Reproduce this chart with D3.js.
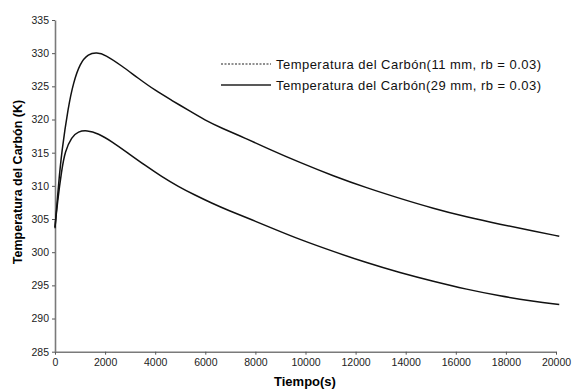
<!DOCTYPE html>
<html>
<head>
<meta charset="utf-8">
<script src="https://cdn.jsdelivr.net/npm/d3@7"></script>
<style>
  body { margin: 0; background: #fff; }
  svg { font-family: "Liberation Sans", Arial, sans-serif; }
</style>
</head>
<body>
<svg id="chart" width="574" height="390"></svg>
<script>
// Time (s) sample points for each series
const tUpper = [0, 133, 267, 533, 731, 998, 1331, 1663, 1996, 2662, 3326, 3992, 4658, 5322, 5988, 6654, 7585, 8450, 9780, 11110, 12440, 13772, 15101, 16432, 17764, 19094, 20130];
const TUpper = [303.6, 309.9, 315.2, 322.0, 325.5, 328.5, 329.9, 330.1, 329.8, 328.1, 326.2, 324.4, 322.9, 321.4, 319.9, 318.7, 317.2, 315.7, 313.5, 311.5, 309.7, 308.1, 306.6, 305.3, 304.2, 303.2, 302.4];

const tLower = [0, 93, 267, 400, 665, 931, 1265, 1730, 2262, 2928, 3593, 4258, 4924, 5589, 6255, 6918, 7852, 8800, 9780, 11110, 12440, 13772, 15101, 16432, 17764, 19094, 20130];
const TLower = [303.8, 307.4, 312.4, 315.2, 317.4, 318.2, 318.4, 317.9, 316.7, 314.9, 313.1, 311.4, 309.9, 308.6, 307.4, 306.3, 304.9, 303.4, 301.9, 300.1, 298.4, 296.9, 295.6, 294.4, 293.4, 292.6, 292.1];

const seriesNames = ["Temperatura del Carbón(11 mm, rb = 0.03)", "Temperatura del Carbón(29 mm, rb = 0.03)"];
const xTicks = [0, 2000, 4000, 6000, 8000, 10000, 12000, 14000, 16000, 18000, 20000];
const yTicks = [285, 290, 295, 300, 305, 310, 315, 320, 325, 330, 335];

const svg = d3.select("#chart");

// Scales
const x = d3.scaleLinear().domain([0, 20000]).range([55, 556]);
const y = d3.scaleLinear().domain([285, 335]).range([351.7, 20]);

// Axes
const xAxis = svg.append("g")
  .attr("transform", "translate(0," + y(285) + ")")
  .call(d3.axisBottom(x).tickValues(xTicks).tickSize(3).tickPadding(4).tickSizeOuter(0).tickFormat(d3.format("d")));

const yAxis = svg.append("g")
  .attr("transform", "translate(" + x(0) + ",0)")
  .call(d3.axisLeft(y).tickValues(yTicks).tickSize(3).tickPadding(3).tickSizeOuter(0));

[xAxis, yAxis].forEach(function(g) {
  g.select(".domain").attr("stroke", "#7a7a7a").attr("stroke-width", 1.6);
  g.selectAll(".tick line").attr("stroke", "#555");
  g.selectAll(".tick text").attr("fill", "#222").style("font-size", "10.5px");
});

// Lines (basis curve smooths out small reading errors)
const line = d3.line()
  .x(d => x(d[0]))
  .y(d => y(d[1]))
  .curve(d3.curveBasis);

const upper = tUpper.map((t, i) => [t, TUpper[i]]);
const lower = tLower.map((t, i) => [t, TLower[i]]);

svg.append("path")
  .datum(lower)
  .attr("fill", "none")
  .attr("stroke", "#111")
  .attr("stroke-width", 1.5)
  .attr("d", line);

svg.append("path")
  .datum(upper)
  .attr("fill", "none")
  .attr("stroke", "#111")
  .attr("stroke-width", 1.5)
  .attr("d", line);

// Legend
const legend = svg.append("g");
seriesNames.forEach(function(name, i) {
  const ly = 64 + i * 21;
  legend.append("line")
    .attr("x1", 221).attr("x2", 271)
    .attr("y1", ly).attr("y2", ly)
    .attr("stroke", "#222")
    .attr("stroke-width", i === 0 ? 1.2 : 1.3)
    .attr("stroke-dasharray", i === 0 ? "2,1.5" : null);
  legend.append("text")
    .attr("x", 276)
    .attr("y", ly)
    .attr("dy", "0.35em")
    .attr("textLength", 265)
    .attr("lengthAdjust", "spacing")
    .style("font-size", "13px")
    .attr("fill", "#111")
    .text(name);
});

// Axis titles
svg.append("text")
  .attr("x", 305)
  .attr("y", 386)
  .attr("text-anchor", "middle")
  .style("font-size", "13px")
  .style("font-weight", "bold")
  .text("Tiempo(s)");

svg.append("text")
  .attr("transform", "rotate(-90)")
  .attr("x", -182)
  .attr("y", 22)
  .attr("text-anchor", "middle")
  .style("font-size", "12.5px")
  .style("font-weight", "bold")
  .text("Temperatura del Carbón (K)");
</script>
</body>
</html>
